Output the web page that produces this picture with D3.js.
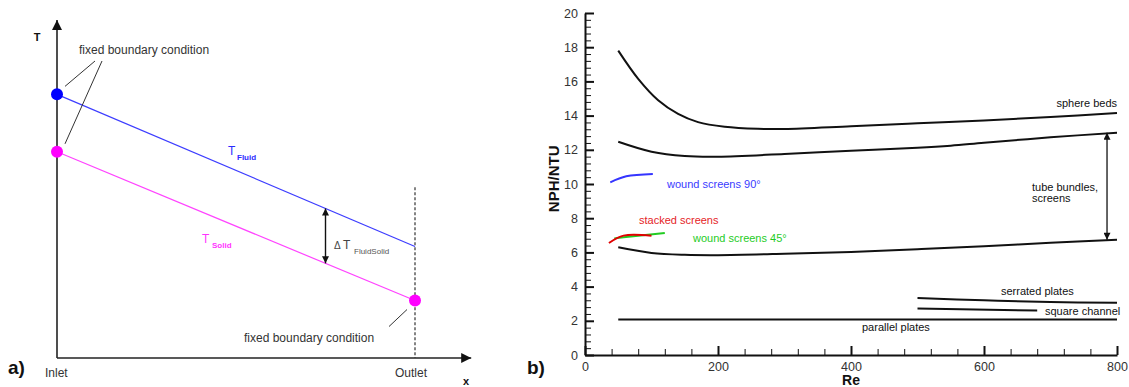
<!DOCTYPE html>
<html>
<head>
<meta charset="utf-8">
<script src="https://cdn.jsdelivr.net/npm/d3@7"></script>
<style>
  html, body { margin: 0; padding: 0; background: #fff; }
  svg { display: block; font-family: "Liberation Sans", Arial, sans-serif; }
</style>
</head>
<body>
<svg id="fig" width="1129" height="387"></svg>
<script>
// ---------- panel a) : temperature profiles along the regenerator ----------
const positionA = [0, 1];                 // inlet, outlet (normalised x)
const tFluid = [78, 33];                  // fluid temperature at inlet / outlet
const tSolid = [61, 17];                  // solid temperature at inlet / outlet
const deltaAt = 0.75;                     // where the ΔT arrow is drawn

// ---------- panel b) : NPH/NTU versus Re ----------
const reTicksMajor = [0, 200, 400, 600, 800];
const nphTicksMajor = [0, 2, 4, 6, 8, 10, 12, 14, 16, 18, 20];

const sphereRe  = [50, 80, 110, 140, 170, 210, 260, 300, 400, 500, 600, 700, 800];
const sphereVal = [17.8, 16.15, 14.9, 14.1, 13.62, 13.35, 13.23, 13.22, 13.38, 13.55, 13.72, 13.92, 14.15];

const tubeTopRe  = [50, 100, 150, 200, 300, 400, 500, 550, 600, 700, 800];
const tubeTopVal = [12.47, 11.89, 11.64, 11.6, 11.76, 11.95, 12.12, 12.24, 12.41, 12.73, 13.0];

const tubeLowRe  = [50, 100, 150, 200, 300, 400, 500, 600, 700, 800];
const tubeLowVal = [6.3, 5.97, 5.86, 5.84, 5.92, 6.03, 6.19, 6.36, 6.56, 6.74];

const serratedRe  = [500, 600, 700, 800];
const serratedVal = [3.33, 3.2, 3.1, 3.05];

const squareRe  = [500, 680];
const squareVal = [2.72, 2.6];

const parallelRe  = [50, 800];
const parallelVal = [2.07, 2.07];

const wound90Re  = [38, 62, 102];
const wound90Val = [10.1, 10.45, 10.59];

const stackedRe  = [36, 58, 100];
const stackedVal = [6.55, 6.98, 6.97];

const wound45Re  = [44, 58, 120];
const wound45Val = [6.82, 6.88, 7.13];

const tubeArrowRe = 785;

const svg = d3.select("#fig");

// arrowhead markers
const defs = svg.append("defs");
function marker(id, color, w, h) {
  defs.append("marker")
    .attr("id", id)
    .attr("viewBox", "0 0 10 10")
    .attr("refX", 10).attr("refY", 5)
    .attr("markerUnits", "userSpaceOnUse")
    .attr("markerWidth", w).attr("markerHeight", h)
    .attr("orient", "auto-start-reverse")
    .append("path")
    .attr("d", "M0,0 L10,5 L0,10 Z")
    .attr("fill", color);
}
marker("axArrow", "#111", 14, 10);
marker("dArrow", "#111", 10, 7);

// ================= panel a =================
const xA = d3.scaleLinear().domain([0, 1]).range([57, 415]);
const yA = d3.scaleLinear().domain([0, 100]).range([358, 20]);
const gA = svg.append("g");

// axes with arrows
gA.append("line")
  .attr("x1", xA(0)).attr("y1", yA(0))
  .attr("x2", xA(0)).attr("y2", yA(100))
  .attr("stroke", "#222").attr("stroke-width", 1.6)
  .attr("marker-end", "url(#axArrow)");
gA.append("line")
  .attr("x1", xA(0)).attr("y1", yA(0))
  .attr("x2", xA(1.157)).attr("y2", yA(0))
  .attr("stroke", "#222").attr("stroke-width", 1.6)
  .attr("marker-end", "url(#axArrow)");

// outlet boundary (dashed)
gA.append("line")
  .attr("x1", xA(1)).attr("y1", yA(50.5))
  .attr("x2", xA(1)).attr("y2", yA(0))
  .attr("stroke", "#333").attr("stroke-width", 1.2)
  .attr("stroke-dasharray", "3,2");

const lineA = d3.line().x(d => xA(d[0])).y(d => yA(d[1]));
const fluidPts = positionA.map((p, i) => [p, tFluid[i]]);
const solidPts = positionA.map((p, i) => [p, tSolid[i]]);

gA.append("path").attr("d", lineA(fluidPts))
  .attr("fill", "none").attr("stroke", "#3d3dff").attr("stroke-width", 1.2);
gA.append("path").attr("d", lineA(solidPts))
  .attr("fill", "none").attr("stroke", "#ff44ff").attr("stroke-width", 1.2);

// fixed boundary points
gA.append("circle").attr("cx", xA(0)).attr("cy", yA(tFluid[0])).attr("r", 6).attr("fill", "#0000ff");
gA.append("circle").attr("cx", xA(0)).attr("cy", yA(tSolid[0])).attr("r", 6).attr("fill", "#ff00ff");
gA.append("circle").attr("cx", xA(1)).attr("cy", yA(tSolid[1])).attr("r", 6).attr("fill", "#ff00ff");

// ΔT arrow between the two profiles
const fluidAt = tFluid[0] + (tFluid[1] - tFluid[0]) * deltaAt;
const solidAt = tSolid[0] + (tSolid[1] - tSolid[0]) * deltaAt;
gA.append("line")
  .attr("x1", xA(deltaAt)).attr("y1", yA(fluidAt))
  .attr("x2", xA(deltaAt)).attr("y2", yA(solidAt))
  .attr("stroke", "#111").attr("stroke-width", 1.4)
  .attr("marker-start", "url(#dArrow)").attr("marker-end", "url(#dArrow)");

// leader lines for the boundary-condition notes
const leaderColor = "#333";
gA.append("line")
  .attr("x1", xA(0) + 8).attr("y1", yA(tFluid[0]) - 8)
  .attr("x2", 95).attr("y2", 61)
  .attr("stroke", leaderColor).attr("stroke-width", 1);
gA.append("line")
  .attr("x1", xA(0) + 8).attr("y1", yA(tSolid[0]) - 8)
  .attr("x2", 102).attr("y2", 61)
  .attr("stroke", leaderColor).attr("stroke-width", 1);
gA.append("line")
  .attr("x1", xA(1) - 26).attr("y1", yA(tSolid[1]) + 26)
  .attr("x2", xA(1) - 8).attr("y2", yA(tSolid[1]) + 9)
  .attr("stroke", leaderColor).attr("stroke-width", 1);

// panel a texts
const txtA = (x, y, s, opts = {}) => gA.append("text")
  .attr("x", x).attr("y", y).text(s)
  .attr("font-size", opts.size || 12)
  .attr("font-weight", opts.weight || "normal")
  .attr("fill", opts.fill || "#333")
  .attr("text-anchor", opts.anchor || "start");

txtA(37, 41, "T", { weight: "bold", size: 11, fill: "#111", anchor: "middle" });
txtA(79, 54, "fixed boundary condition", { size: 12 });
txtA(244, 342, "fixed boundary condition", { size: 12 });
txtA(228, 155, "T", { size: 12, fill: "#2b2bff" });
txtA(237, 160, "Fluid", { size: 8, weight: "bold", fill: "#2b2bff" });
txtA(202, 243, "T", { size: 12, fill: "#ff33ff" });
txtA(212, 248, "Solid", { size: 8, weight: "bold", fill: "#ff33ff" });
txtA(334, 249, "Δ", { size: 10, fill: "#444" });
txtA(343, 249, "T", { size: 12, fill: "#444" });
txtA(354, 254, "FluidSolid", { size: 8, fill: "#555" });
txtA(45, 377, "Inlet", { size: 12 });
txtA(395, 377, "Outlet", { size: 12 });
txtA(466, 385, "x", { size: 11, weight: "bold", fill: "#111", anchor: "middle" });
txtA(8, 374, "a)", { size: 19, weight: "bold", fill: "#111" });

// ================= panel b =================
const x = d3.scaleLinear().domain([0, 800]).range([585, 1117]);
const y = d3.scaleLinear().domain([0, 20]).range([355, 13]);
const gB = svg.append("g");

const reMinor = d3.range(0, 801, 40).filter(v => !reTicksMajor.includes(v));
const nphMinor = d3.range(0, 20.01, 0.4).map(v => +v.toFixed(1)).filter(v => !nphTicksMajor.includes(v));

// minor ticks
gB.append("g").attr("transform", `translate(0,${y(0)})`)
  .call(d3.axisBottom(x).tickValues(reMinor).tickSize(-6).tickSizeOuter(0).tickFormat(""))
  .call(g => g.select(".domain").remove())
  .selectAll("line").attr("stroke", "#111").attr("stroke-width", 1);
gB.append("g").attr("transform", `translate(${x(0)},0)`)
  .call(d3.axisLeft(y).tickValues(nphMinor).tickSize(-6).tickSizeOuter(0).tickFormat(""))
  .call(g => g.select(".domain").remove())
  .selectAll("line").attr("stroke", "#111").attr("stroke-width", 1);

// major axes
const xAxis = gB.append("g").attr("transform", `translate(0,${y(0)})`)
  .call(d3.axisBottom(x).tickValues(reTicksMajor).tickSize(-9).tickSizeOuter(0).tickPadding(7));
const yAxis = gB.append("g").attr("transform", `translate(${x(0)},0)`)
  .call(d3.axisLeft(y).tickValues(nphTicksMajor).tickSize(-9).tickSizeOuter(0).tickPadding(7));
[xAxis, yAxis].forEach(a => {
  a.select(".domain").attr("stroke", "#111").attr("stroke-width", 2);
  a.selectAll(".tick line").attr("stroke", "#111").attr("stroke-width", 2);
  a.selectAll(".tick text").attr("font-size", 12.5).attr("fill", "#333")
    .attr("font-family", "Liberation Sans, Arial, sans-serif");
});

// curves
const lineB = d3.line().x(d => x(d[0])).y(d => y(d[1])).curve(d3.curveCatmullRom.alpha(0.5));
const zip = (a, b) => a.map((v, i) => [v, b[i]]);
const curves = [
  { re: sphereRe, v: sphereVal, c: "#111" },
  { re: tubeTopRe, v: tubeTopVal, c: "#111" },
  { re: tubeLowRe, v: tubeLowVal, c: "#111" },
  { re: serratedRe, v: serratedVal, c: "#111" },
  { re: squareRe, v: squareVal, c: "#111" },
  { re: parallelRe, v: parallelVal, c: "#111" },
  { re: wound90Re, v: wound90Val, c: "#3535ff" },
  { re: wound45Re, v: wound45Val, c: "#22cc22" },
  { re: stackedRe, v: stackedVal, c: "#e00000" }
];
gB.selectAll("path.curve").data(curves).join("path")
  .attr("class", "curve")
  .attr("d", d => lineB(zip(d.re, d.v)))
  .attr("fill", "none")
  .attr("stroke", d => d.c)
  .attr("stroke-width", 2);

// range arrow for tube bundles / screens
gB.append("line")
  .attr("x1", x(tubeArrowRe)).attr("y1", y(tubeTopVal[tubeTopVal.length - 1]))
  .attr("x2", x(tubeArrowRe)).attr("y2", y(tubeLowVal[tubeLowVal.length - 1]))
  .attr("stroke", "#111").attr("stroke-width", 1.3)
  .attr("marker-start", "url(#dArrow)").attr("marker-end", "url(#dArrow)");

// labels
const txtB = (xx, yy, s, opts = {}) => gB.append("text")
  .attr("x", xx).attr("y", yy).text(s)
  .attr("font-size", opts.size || 11)
  .attr("font-weight", opts.weight || "normal")
  .attr("fill", opts.fill || "#111")
  .attr("text-anchor", opts.anchor || "start");

txtB(1117, 107, "sphere beds", { anchor: "end" });
txtB(1032, 191, "tube bundles,");
txtB(1032, 202, "screens");
txtB(1001, 295, "serrated plates");
txtB(1045, 315, "square channel");
txtB(862, 331, "parallel plates");
txtB(667, 188, "wound screens 90°", { fill: "#3a3aff" });
txtB(639, 224, "stacked screens", { fill: "#e51d27" });
txtB(693, 242, "wound screens 45°", { fill: "#1fcc1f" });

// axis titles
gB.append("text")
  .attr("transform", `translate(559,${y(10.3)}) rotate(-90)`)
  .attr("text-anchor", "middle")
  .attr("font-size", 15).attr("font-weight", "bold").attr("fill", "#111")
  .text("NPH/NTU");
txtB(x(400), 385, "Re", { size: 14, weight: "bold", fill: "#111", anchor: "middle" });
txtB(527, 374, "b)", { size: 19, weight: "bold", fill: "#111" });
</script>
</body>
</html>
